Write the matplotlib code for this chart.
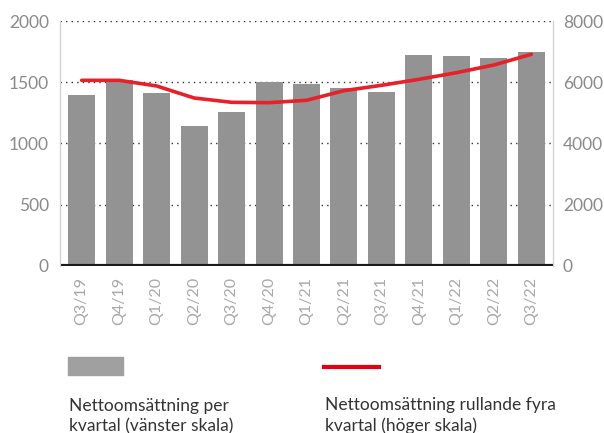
import matplotlib
matplotlib.use("Agg")
import matplotlib.pyplot as plt
from matplotlib.patches import Rectangle
from matplotlib.lines import Line2D

quarters = ["Q3/19", "Q4/19", "Q1/20", "Q2/20", "Q3/20", "Q4/20", "Q1/21",
            "Q2/21", "Q3/21", "Q4/21", "Q1/22", "Q2/22", "Q3/22"]
per_quarter = [1396, 1518, 1412, 1143, 1257, 1505, 1485,
               1451, 1418, 1720, 1712, 1696, 1745]
rolling_4q = [6063, 6063, 5878, 5486, 5345, 5333, 5410,
              5725, 5900, 6095, 6312, 6563, 6912]

left_ticks = [0, 500, 1000, 1500, 2000]
right_ticks = [0, 2000, 4000, 6000, 8000]

plt.rcParams['font.family'] = ['Lato', 'DejaVu Sans']

fig = plt.figure(figsize=(6.04, 4.33), dpi=100)
ax = fig.add_axes([0.0993, 0.3857, 0.8163, 0.5658])
ax2 = ax.twinx()

x = list(range(len(quarters)))
ax.bar(x, per_quarter, width=0.72, color="#939393", zorder=2)
ax.set_ylim(0, 2000)
ax.set_xlim(-0.58, len(quarters) - 1 + 0.58)
ax.set_yticks(left_ticks)
ax.set_yticklabels([str(t) for t in left_ticks])
for t in left_ticks[1:]:
    ax.axhline(t, color="#333333", lw=1.0, ls=(0, (1, 3)), zorder=1)
ax.axhline(0, color="#1a1a1a", lw=3, zorder=4)

ax2.plot(x, rolling_4q, color="#e8202a", lw=2.6, solid_joinstyle="round",
         solid_capstyle="round", zorder=5)
ax2.set_ylim(0, 8000)
ax2.set_yticks(right_ticks)
ax2.set_yticklabels([str(t) for t in right_ticks])

ax.set_xticks(x)
ax.set_xticklabels(quarters, rotation=90, va="top", ha="center")

for a in (ax, ax2):
    for s in ("top", "bottom"):
        a.spines[s].set_visible(False)
    a.spines["left"].set_color("#d0d0d0")
    a.spines["right"].set_color("#d0d0d0")
    a.spines["left"].set_linewidth(0.8)
    a.spines["right"].set_linewidth(0.8)
    a.tick_params(axis="y", length=0, labelsize=12.5, labelcolor="#8a8a8a", pad=8)
ax2.tick_params(axis="y", pad=7)
ax.tick_params(axis="x", length=0, labelsize=11.5, labelcolor="#a8a8a8", pad=8)
ax2.set_zorder(ax.get_zorder() + 1)

# legend below
fig.patches.append(Rectangle((68 / 604, 1 - 375 / 433), 55 / 604, 18 / 433,
                             transform=fig.transFigure, color="#a0a0a0"))
fig.lines.append(Line2D([324 / 604, 379 / 604], [1 - 367 / 433] * 2,
                        transform=fig.transFigure, color="#e3000f", lw=3))
fig.text(69 / 604, 1 - 431 / 433, "Nettoomsättning per\nkvartal (vänster skala)",
         fontsize=12.5, color="#333333", va="baseline", linespacing=1.3)
fig.text(325 / 604, 1 - 431 / 433, "Nettoomsättning rullande fyra\nkvartal (höger skala)",
         fontsize=12.5, color="#333333", va="baseline", linespacing=1.3)

fig.savefig("out.png", dpi=100)
